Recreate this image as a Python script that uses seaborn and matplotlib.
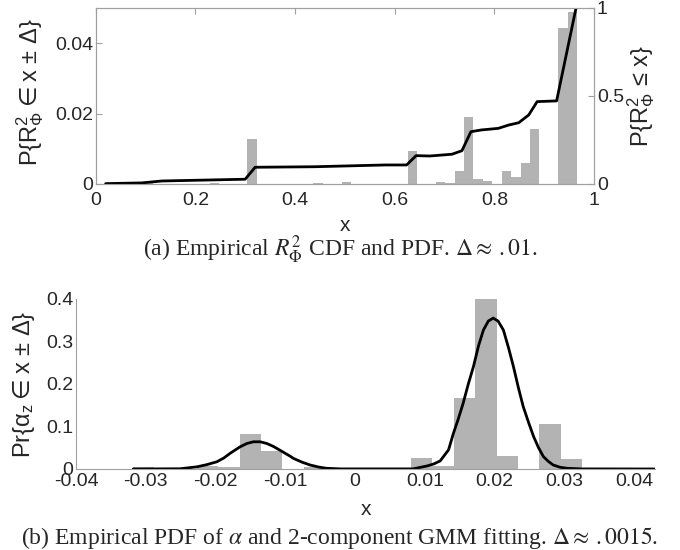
import numpy as np
import pandas as pd
import matplotlib
matplotlib.use("Agg")
import matplotlib.pyplot as plt
import seaborn as sns

sns.set_style("white")
plt.rcParams['font.family'] = ['Liberation Sans', 'DejaVu Sans']

# ---- panel (a): empirical R^2 PDF (bars) and CDF (line) ----
r2_bin_start = 0.021
r2_bin_width = 0.0189
r2_bin_heights = [0, 0.0003, 0, 0, 0.0006, 0, 0, 0, 0, 0,
                  0, 0.0004, 0, 0, 0, 0.0128, 0, 0, 0, 0,
                  0, 0, 0.0004, 0, 0, 0.0006, 0, 0, 0, 0,
                  0, 0, 0.0095, 0, 0, 0.0007, 0.0003, 0.0038, 0.019, 0.0014,
                  0.0009, 0, 0.0037, 0.0019, 0.0061, 0.0156, 0, 0, 0.0442, 0.0489]

cdf_x = [0.02, 0.092, 0.133, 0.30, 0.32, 0.44, 0.581, 0.624, 0.643, 0.671,
         0.715, 0.735, 0.753, 0.774, 0.808, 0.829, 0.849, 0.869, 0.886, 0.925, 0.964]
cdf_y = [0.002, 0.006, 0.017, 0.027, 0.095, 0.098, 0.108, 0.108, 0.161, 0.159,
         0.169, 0.189, 0.297, 0.307, 0.316, 0.335, 0.348, 0.392, 0.468, 0.472, 1.0]

# ---- panel (b): empirical PDF of alpha and 2-component GMM fit ----
alpha_bin_start = -0.0319
alpha_bin_width = 0.00307
alpha_bin_heights = [0.004, 0, 0, 0.008, 0.005, 0.082, 0.042, 0, 0.004, 0.002,
                     0.002, 0, 0, 0.025, 0.007, 0.168, 0.40, 0.031, 0, 0.105, 0.023]

gmm_x = [-0.0318, -0.0251, -0.0227, -0.0213, -0.0198, -0.0188, -0.0179, -0.0165,
         -0.0155, -0.01458, -0.0136, -0.01266, -0.0117, -0.01075, -0.0093, -0.00884,
         -0.0076, -0.00645, -0.0052, -0.0041, -0.002, 0.0083, 0.0103, 0.0113,
         0.0122, 0.0134, 0.0141, 0.0148, 0.0155, 0.0162, 0.01697, 0.0177, 0.0184,
         0.0191, 0.0198, 0.0205, 0.02126, 0.0220, 0.0227, 0.0234, 0.0241, 0.0249,
         0.0256, 0.0263, 0.027, 0.0277, 0.0284, 0.0294, 0.0304, 0.0325, 0.043]
gmm_y = [0, 0.0005, 0.005, 0.010, 0.017, 0.026, 0.037, 0.052,
         0.060, 0.064, 0.064, 0.060, 0.053, 0.044, 0.030, 0.025,
         0.016, 0.0094, 0.0045, 0.0016, 0.0002, 0.0002, 0.007, 0.012,
         0.019, 0.045, 0.084, 0.118, 0.155, 0.198, 0.241, 0.290, 0.327,
         0.348, 0.355, 0.348, 0.327, 0.285, 0.241, 0.192, 0.147, 0.108,
         0.076, 0.050, 0.029, 0.018, 0.0094, 0.004, 0.0016, 0.0002, 0]

bar_color = '#b3b3b3'
spine_color = '#a0a0a0'


def binned(start, width, heights):
    heights = np.asarray(heights)
    centers = start + width * (np.arange(len(heights)) + 0.5)
    return pd.DataFrame({'x': centers, 'h': heights})


def draw_bars(ax, df):
    sns.barplot(data=df, x='x', y='h', ax=ax, native_scale=True, width=1,
                color=bar_color, saturation=1, errorbar=None,
                edgecolor='none', linewidth=0)


fig = plt.figure(figsize=(6.8, 5.5), dpi=100)

# panel (a)
ax = fig.add_axes([0.1407, 0.6655, 0.7328, 0.32])
draw_bars(ax, binned(r2_bin_start, r2_bin_width, r2_bin_heights))
ax.set_xlim(0, 1)
ax.set_ylim(0, 0.05)
ax.set_xticks([0, 0.2, 0.4, 0.6, 0.8, 1])
ax.set_xticklabels(['0', '0.2', '0.4', '0.6', '0.8', '1'])
ax.set_yticks([0, 0.02, 0.04])
ax.set_yticklabels(['0', '0.02', '0.04'])
ax.tick_params(direction='in', length=4, color=spine_color, labelsize=14,
               top=True, right=True, pad=2)
ax.tick_params(axis='x', pad=6)
ax.set_xlabel('x', fontsize=15, labelpad=5)
ax.set_ylabel('P{$\\mathregular{R^2_\\Phi}\\in$x ± Δ}', fontsize=17)
ax.yaxis.set_label_coords(-0.10, 0.52)
for s in ax.spines.values():
    s.set_color(spine_color)
    s.set_linewidth(0.8)

ax2 = ax.twinx()
sns.lineplot(x=cdf_x, y=cdf_y, ax=ax2, color='black', linewidth=2)
ax2.set_ylim(0, 1)
ax2.set_yticks([0, 0.5, 1])
ax2.set_yticklabels(['0', '0.5', '1'])
ax2.tick_params(direction='in', length=4, color=spine_color, labelsize=14, pad=2)
ax2.set_ylabel('P{$\\mathregular{R^2_\\Phi}$ ≤ x}', fontsize=17)
ax2.yaxis.set_label_coords(1.062, 0.5)
for s in ax2.spines.values():
    s.set_color(spine_color)
    s.set_linewidth(0.8)

fig.text(0.5, 1 - 257 / 550, r'(a) Empirical $R^2_\Phi$ CDF and PDF. $\Delta \approx\,.01$.',
         ha='center', va='baseline', fontsize=17, family='Liberation Serif',
         math_fontfamily='stix')

# panel (b)
bx = fig.add_axes([0.1118, 0.1473, 0.8515, 0.3091])
draw_bars(bx, binned(alpha_bin_start, alpha_bin_width, alpha_bin_heights))
sns.lineplot(x=gmm_x, y=gmm_y, ax=bx, color='black', linewidth=2)
bx.set_xlim(-0.04, 0.043)
bx.set_ylim(0, 0.4)
bx.set_xticks([-0.04, -0.03, -0.02, -0.01, 0, 0.01, 0.02, 0.03, 0.04])
bx.set_xticklabels(['-0.04', '-0.03', '-0.02', '-0.01', '0', '0.01', '0.02', '0.03', '0.04'])
bx.set_yticks([0, 0.1, 0.2, 0.3, 0.4])
bx.set_yticklabels(['0', '0.1', '0.2', '0.3', '0.4'])
bx.tick_params(direction='in', length=4, color=spine_color, labelsize=14, pad=2)
bx.tick_params(axis='x', pad=3)
bx.set_xlabel('x', fontsize=15, labelpad=7)
bx.set_ylabel('Pr{$\\mathregular{\\alpha_z}\\in$x ± Δ}', fontsize=17)
bx.yaxis.set_label_coords(-0.068, 0.5)
bx.spines['top'].set_visible(False)
bx.spines['right'].set_visible(False)
for s in ['left', 'bottom']:
    bx.spines[s].set_color(spine_color)
    bx.spines[s].set_linewidth(0.8)

fig.text(0.5, 1 - 544 / 550,
         r'(b) Empirical PDF of $\alpha$ and 2-component GMM fitting. $\Delta \approx\,.0015$.',
         ha='center', va='baseline', fontsize=17, family='Liberation Serif',
         math_fontfamily='stix')

fig.savefig('out.png', dpi=100)
